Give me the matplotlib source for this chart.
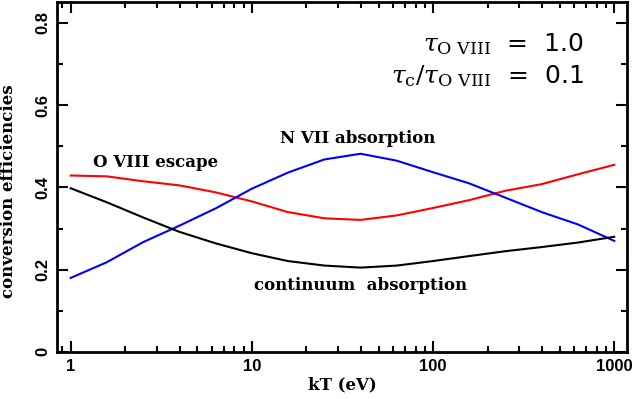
import matplotlib
matplotlib.use("Agg")
import matplotlib.pyplot as plt
from matplotlib.ticker import MultipleLocator, LogLocator, NullFormatter

plt.rcParams["mathtext.fontset"] = "dejavuserif"

kT = [1, 1.58, 2.51, 3.98, 6.31, 10, 15.8, 25.1, 39.8, 63.1, 100, 158, 251, 398, 631, 1000]
o8_escape = [0.429, 0.427, 0.415, 0.405, 0.388, 0.366, 0.340, 0.325, 0.321, 0.332, 0.350, 0.369, 0.392, 0.408, 0.432, 0.455]
n7_abs = [0.180, 0.218, 0.267, 0.307, 0.349, 0.397, 0.436, 0.468, 0.482, 0.465, 0.437, 0.410, 0.375, 0.340, 0.310, 0.270]
cont_abs = [0.398, 0.364, 0.327, 0.292, 0.264, 0.240, 0.221, 0.210, 0.205, 0.210, 0.221, 0.233, 0.245, 0.255, 0.266, 0.280]

xticks = [1, 10, 100, 1000]
xticklabels = ["1", "10", "100", "1000"]
yticks = [0, 0.2, 0.4, 0.6, 0.8]
yticklabels = ["0", "0.2", "0.4", "0.6", "0.8"]

serif = dict(family="DejaVu Serif", weight="bold")
sans = dict(family="Liberation Sans", weight="bold")

fig = plt.figure(figsize=(6.35, 3.99), dpi=100)
ax = fig.add_axes([0.0902, 0.118, 0.8976, 0.876])
ax.plot(kT, o8_escape, color="#ff0000", lw=1.5)
ax.plot(kT, n7_abs, color="#0000ff", lw=1.5)
ax.plot(kT, cont_abs, color="#000000", lw=1.5)

ax.set_xscale("log")
ax.set_xlim(0.843, 1180)
ax.set_ylim(0, 0.85)
ax.set_xticks(xticks)
ax.set_xticklabels(xticklabels, **sans, fontsize=12)
ax.xaxis.set_minor_locator(LogLocator(base=10, subs=range(2, 10)))
ax.xaxis.set_minor_formatter(NullFormatter())
ax.set_yticks(yticks)
ax.set_yticklabels(yticklabels, **sans, fontsize=12, rotation=90, va="center")
ax.yaxis.set_minor_locator(MultipleLocator(0.1))
ax.tick_params(which="both", direction="in", top=True, right=True, width=1.5)
ax.tick_params(which="major", length=8, pad=5)
ax.tick_params(which="minor", length=4)
for s in ax.spines.values():
    s.set_linewidth(2)

ax.set_xlabel("kT (eV)", **serif, fontsize=12, labelpad=2)
ax.set_ylabel("conversion efficiencies", **serif, fontsize=12)
ax.yaxis.set_label_coords(-0.071, 0.46)

ax.text(2.95, 0.46, "O VIII escape", **serif, fontsize=12, ha="center", va="center")
ax.text(38.5, 0.52, "N VII absorption", **serif, fontsize=12, ha="center", va="center")
ax.text(40, 0.162, "continuum  absorption", **serif, fontsize=12, ha="center", va="center")

ax.text(0.923, 0.88, r"$\tau_{\mathrm{O\ VIII}}$  =  1.0", transform=ax.transAxes,
        fontsize=18, ha="right", va="center", family="DejaVu Sans")
ax.text(0.923, 0.789, r"$\tau_{\mathrm{c}}/\tau_{\mathrm{O\ VIII}}$  =  0.1", transform=ax.transAxes,
        fontsize=18, ha="right", va="center", family="DejaVu Sans")

fig.savefig("out.png", dpi=100)
